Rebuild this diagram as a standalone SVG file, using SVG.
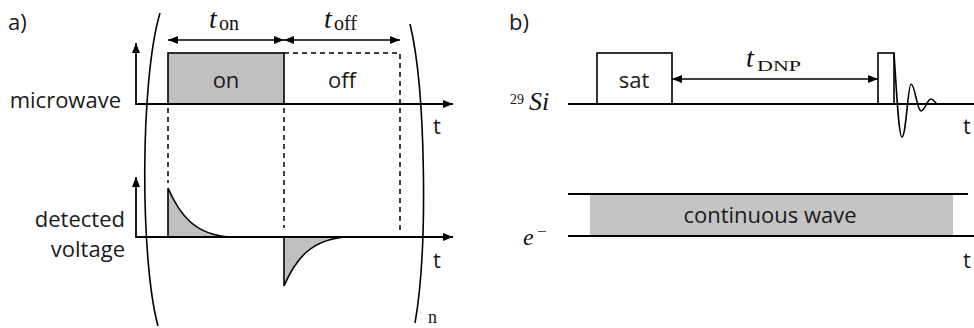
<svg xmlns="http://www.w3.org/2000/svg" width="974" height="328" viewBox="0 0 974 328">
<defs>
<style>
.lbl{font-family:"Open Sans","Liberation Sans",sans-serif;font-size:22px;fill:#1a1a1a}
.math{font-family:"Liberation Serif","DejaVu Serif",serif;fill:#111}
.ln{stroke:#000;stroke-width:1.6;fill:none}
.dash{stroke:#000;stroke-width:1.5;fill:none;stroke-dasharray:5 4}
.grey{fill:#c0c0c0;stroke:#000;stroke-width:1.6}
.ax{stroke:#000;stroke-width:1.8;fill:none}
</style>
<marker id="ah" viewBox="0 0 10 8" refX="10" refY="4" markerWidth="10" markerHeight="8" markerUnits="userSpaceOnUse" orient="auto-start-reverse">
<path d="M0,0 L10,4 L0,8 Z" fill="#000"/>
</marker>
</defs>
<rect width="974" height="328" fill="#fff"/>

<g id="panel-a-label"><text class="lbl" x="8" y="30">a)</text></g>
<g id="panel-b-label"><text class="lbl" x="509" y="30">b)</text></g>

<g id="brackets">
<path class="ln" d="M160,13 C140,80 140,260 158,326"/>
<path class="ln" d="M410,24 C426,90 428,250 415,323"/>
<text class="math" x="428" y="323" font-size="18">n</text>
</g>

<g id="microwave">
<text class="lbl" x="121" y="108" text-anchor="end">microwave</text>
<rect id="on-box" class="grey" x="168" y="53" width="116" height="51"/>
<text class="lbl" x="226" y="88" text-anchor="middle">on</text>
<path id="off-box" class="dash" d="M284,53 L400,53 L400,104"/>
<text class="lbl" x="342" y="88" text-anchor="middle">off</text>
<text class="lbl" x="433" y="134">t</text>
</g>

<g id="voltage">
<text class="lbl" x="125" y="227" text-anchor="end">detected</text>
<text class="lbl" x="125" y="257" text-anchor="end">voltage</text>
<path class="grey" d="M168,237 L168,188 C180,216 196,235 230,237 Z"/>
<path class="grey" d="M284,237 L284,286 C296,258 312,239 347,237 Z"/>
<text class="lbl" x="433" y="268">t</text>
</g>

<g id="t-on-label"><text class="math" x="209" y="28" font-size="28" font-style="italic">t</text><text class="math" x="219" y="30" font-size="20">on</text></g>
<g id="t-off-label"><text class="math" x="324" y="28" font-size="28" font-style="italic">t</text><text class="math" x="334" y="30" font-size="20">off</text></g>

<g id="si29">
<text class="math" x="510" y="104" font-size="14">29</text>
<text class="math" x="529" y="110" font-size="26" font-style="italic">Si</text>
<rect id="sat-box" class="ln" x="597" y="53" width="75" height="51"/>
<text class="lbl" x="634" y="88" text-anchor="middle">sat</text>
<rect id="pulse" class="ln" x="878" y="53" width="16" height="51"/>
<path id="fid" class="ln" d="M894,53 C897,100 899,137 902,137 C906,137 908,84 911,84 C915,84 917,111 921,111 C925,111 927,99 931,99 C934,99 935,104 938,104"/>
<text class="math" x="746" y="67" font-size="28" font-style="italic">t</text>
<text class="math" x="757" y="71" font-size="14" textLength="44" lengthAdjust="spacingAndGlyphs">DNP</text>
<text class="lbl" x="963" y="134">t</text>
</g>

<g id="electron">
<text class="math" x="523" y="245" font-size="24" font-style="italic">e</text>
<text class="math" x="537" y="237" font-size="17">−</text>
<rect id="cw" x="590" y="194" width="363" height="42" fill="#c4c4c4"/>
<text class="lbl" x="770" y="223" text-anchor="middle">continuous wave</text>
<text class="lbl" x="963" y="268">t</text>
</g>

<g id="connectors">
<line class="ax" x1="136" y1="104" x2="453" y2="104" marker-end="url(#ah)"/>
<line class="ax" x1="136" y1="105" x2="136" y2="43" marker-end="url(#ah)"/>
<line class="ax" x1="136" y1="237" x2="453" y2="237" marker-end="url(#ah)"/>
<line class="ax" x1="136" y1="238" x2="136" y2="177" marker-end="url(#ah)"/>
<line class="ln" x1="168" y1="40" x2="284" y2="40" marker-start="url(#ah)" marker-end="url(#ah)"/>
<line class="ln" x1="284" y1="40" x2="400" y2="40" marker-start="url(#ah)" marker-end="url(#ah)"/>
<line class="dash" x1="168" y1="108" x2="168" y2="183"/>
<line class="dash" x1="284" y1="108" x2="284" y2="228"/>
<line class="dash" x1="400" y1="108" x2="400" y2="230"/>
<line class="ln" x1="672" y1="79" x2="878" y2="79" marker-start="url(#ah)" marker-end="url(#ah)"/>
<line class="ax" x1="568" y1="104" x2="974" y2="104"/>
<line class="ax" x1="568" y1="194" x2="968" y2="194"/>
<line class="ax" x1="568" y1="236" x2="974" y2="236"/>
</g>
</svg>
